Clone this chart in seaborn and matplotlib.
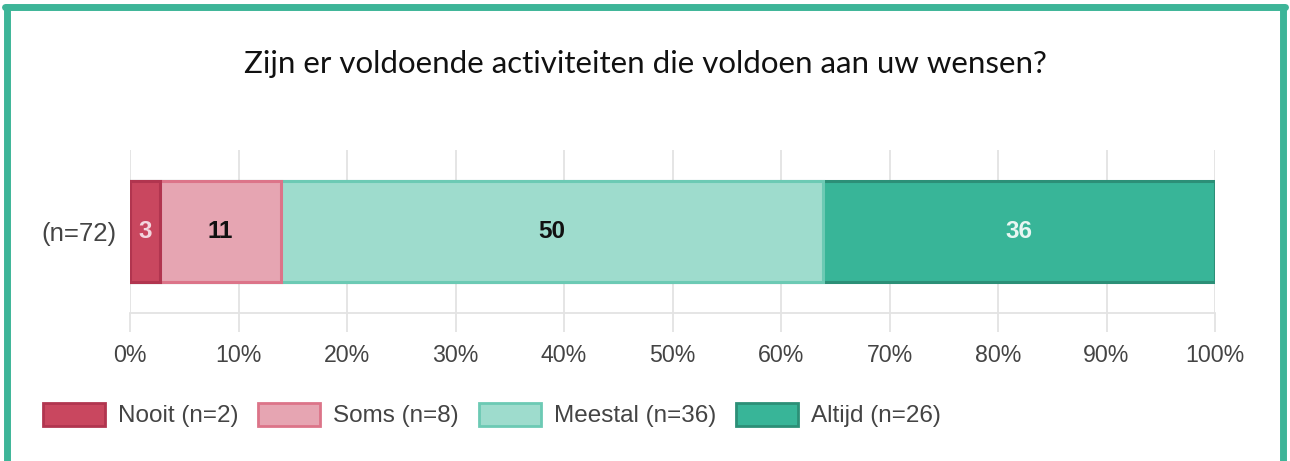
import numpy as np
import pandas as pd
import matplotlib
matplotlib.use("Agg")
import matplotlib.pyplot as plt
import seaborn as sns
from matplotlib.patches import Patch
from matplotlib.lines import Line2D

# Data
row_label = "(n=72)"
categories = ["Nooit", "Soms", "Meestal", "Altijd"]
counts = [2, 8, 36, 26]
fill_colors = ["#c9475f", "#e6a5b2", "#9edccd", "#38b598"]
edge_colors = ["#b1354f", "#dc7489", "#6ccab4", "#2c8f77"]
label_colors = ["#f3d7de", "#111111", "#111111", "#e8f6f2"]
xticks = [0, 10, 20, 30, 40, 50, 60, 70, 80, 90, 100]
title = "Zijn er voldoende activiteiten die voldoen aan uw wensen?"

total = sum(counts)
pct = [c / total * 100 for c in counts]
cum = np.cumsum(pct)
df = pd.DataFrame({"cat": categories, "pct": pct, "cum": cum, "row": row_label})

sns.set_theme(style="white")
plt.rcParams['font.family'] = ['Liberation Sans', 'DejaVu Sans']

fig = plt.figure(figsize=(12.9, 4.61), dpi=100)
ax = fig.add_axes([130 / 1290, 1 - 313 / 461, 1085 / 1290, 163 / 461])

# stacked bars: draw cumulative totals from the longest down
for i in reversed(range(len(categories))):
    sns.barplot(data=df.iloc[[i]], x="cum", y="row", orient="h", color=fill_colors[i],
                width=1.0, saturation=1, edgecolor=edge_colors[i], linewidth=2.2, ax=ax)

for i in range(len(categories)):
    start = cum[i] - pct[i]
    ax.text(start + pct[i] / 2, 0, f"{pct[i]:.0f}", ha="center", va="center",
            fontsize=17.5, fontweight="bold", color=label_colors[i])

ax.set_xlim(0, 100)
ax.set_ylim(0.815, -0.815)
ax.set_xticks(xticks)
ax.set_xticklabels([f"{t}%" for t in xticks], fontsize=16.7, color="#444444")
ax.tick_params(axis="x", length=14, width=1.3, color="#e3e3e3", pad=8, bottom=True)
ax.tick_params(axis="y", length=0, pad=10, labelsize=18.5, labelcolor="#444444")
ax.set_xlabel("")
ax.set_ylabel("")
ax.set_axisbelow(True)
ax.grid(axis="x", color="#e3e3e3", linewidth=1.3)
for s in ["top", "right", "left"]:
    ax.spines[s].set_visible(False)
ax.spines["bottom"].set_color("#e3e3e3")
ax.spines["bottom"].set_linewidth(1.3)

fig.text(0.5, 1 - 64 / 461, title, ha="center", va="center", fontsize=22.5,
         family=["Lato", "DejaVu Sans"], color="#111111")

handles = [Patch(facecolor=fill_colors[i], edgecolor=edge_colors[i], linewidth=2)
           for i in range(len(categories))]
labels = [f"{categories[i]} (n={counts[i]})" for i in range(len(categories))]
fig.legend(handles, labels, loc="center left", bbox_to_anchor=(43 / 1290, 1 - 415 / 461),
           ncol=4, frameon=False, fontsize=17.5, handlelength=2.55, handleheight=1.1,
           handletextpad=0.53, columnspacing=0.82, borderpad=0, borderaxespad=0,
           labelcolor="#444444")

# teal frame
frame = "#3db598"
lw = 5
fig.add_artist(Line2D([7 / 1290, 7 / 1290], [0, 1 - 7 / 461], transform=fig.transFigure,
                      color=frame, linewidth=lw))
fig.add_artist(Line2D([1283 / 1290, 1283 / 1290], [0, 1 - 7 / 461], transform=fig.transFigure,
                      color=frame, linewidth=lw))
fig.add_artist(Line2D([5 / 1290, 1285 / 1290], [1 - 7 / 461, 1 - 7 / 461], transform=fig.transFigure,
                      color=frame, linewidth=lw))

fig.savefig("out.png", dpi=100)
